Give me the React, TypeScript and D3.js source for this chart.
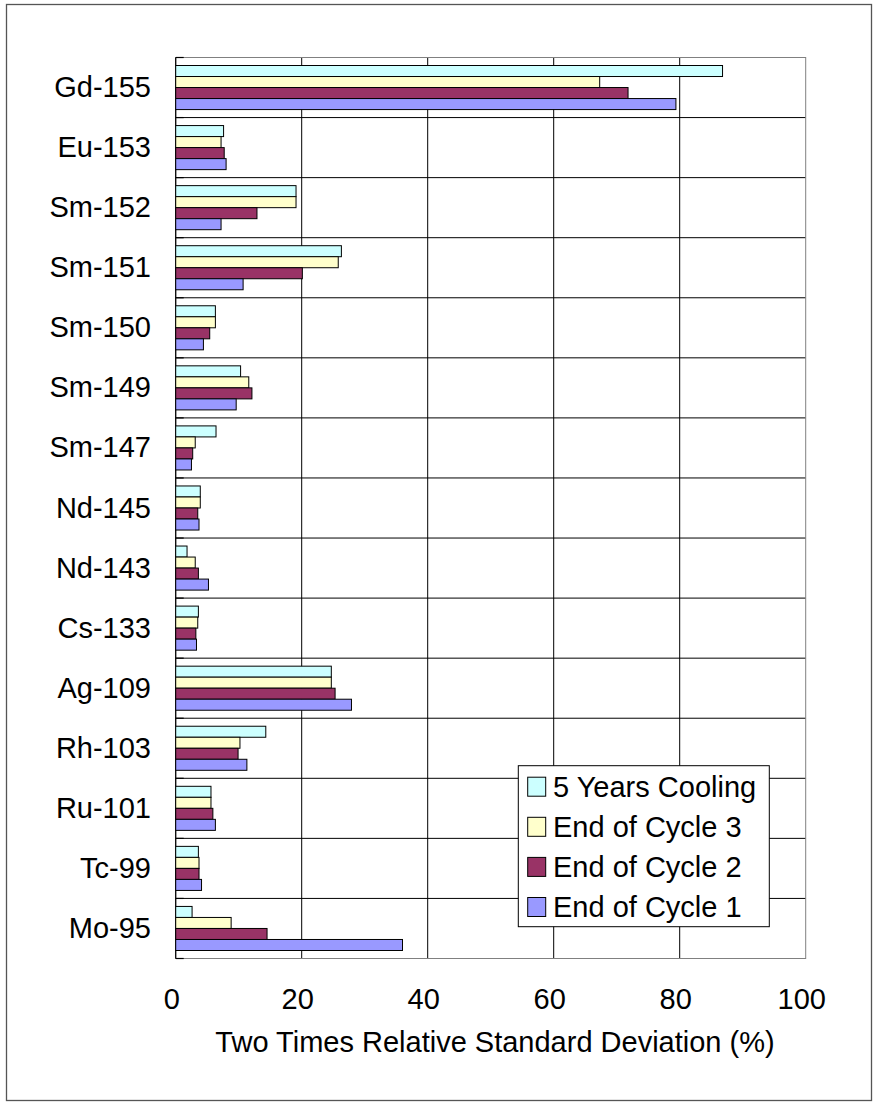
import React from "react";
import * as d3 from "d3";

const categories = [
  "Gd-155", "Eu-153", "Sm-152", "Sm-151", "Sm-150", "Sm-149", "Sm-147",
  "Nd-145", "Nd-143", "Cs-133", "Ag-109", "Rh-103", "Ru-101", "Tc-99", "Mo-95",
];
const seriesNames = ["5 Years Cooling", "End of Cycle 3", "End of Cycle 2", "End of Cycle 1"];
const seriesColors = ["#CCFFFF", "#FFFFCC", "#993366", "#9999FF"];

const fiveYearsCooling = [86.8, 7.6, 19.1, 26.3, 6.3, 10.3, 6.4, 3.9, 1.8, 3.6, 24.7, 14.3, 5.6, 3.6, 2.6];
const endOfCycle3 = [67.3, 7.2, 19.1, 25.8, 6.3, 11.6, 3.1, 3.9, 3.1, 3.5, 24.7, 10.2, 5.6, 3.7, 8.8];
const endOfCycle2 = [71.8, 7.7, 12.9, 20.1, 5.4, 12.1, 2.7, 3.5, 3.6, 3.2, 25.3, 9.9, 5.9, 3.7, 14.5];
const endOfCycle1 = [79.4, 8.0, 7.2, 10.7, 4.4, 9.6, 2.5, 3.7, 5.2, 3.3, 27.9, 11.3, 6.3, 4.1, 36.0];

const seriesValues = [fiveYearsCooling, endOfCycle3, endOfCycle2, endOfCycle1];
const xTicks = [0, 20, 40, 60, 80, 100];
const xTitle = "Two Times Relative Standard Deviation (%)";

const W = 873;
const H = 1103;
const FONT = "'Liberation Sans', Arial, Helvetica, sans-serif";
const FS = 29;

export default function App() {
  const left = 175.7;
  const right = 805.7;
  const top = 57.5;
  const bottom = 958.5;

  const x = d3.scaleLinear().domain([0, 100]).range([left, right]);
  const y = d3.scaleBand<string>().domain(categories).range([top, bottom]).padding(0);
  const step = y.step();
  const inner = d3.scaleBand<number>().domain([0, 1, 2, 3]).range([8, step - 8]).padding(0);

  const legendX = 518.3;
  const legendY = 765.7;
  const legendW = 251;
  const legendH = 161;

  return (
    <svg
      width={W}
      height={H}
      style={{ position: "absolute", left: 0, top: 0, background: "#fff" }}
      fontFamily={FONT}
    >
      <rect x={0} y={0} width={W} height={H} fill="#fff" />
      <rect x={6.5} y={4.5} width={865} height={1096} fill="none" stroke="#555" strokeWidth={1.3} />

      {/* vertical gridlines */}
      {xTicks.slice(1, -1).map((t) => (
        <line key={"vg" + t} x1={x(t)} x2={x(t)} y1={top} y2={bottom} stroke="#000" strokeWidth={1} />
      ))}
      {/* horizontal gridlines at category boundaries */}
      {categories.slice(1).map((c) => (
        <line key={"hg" + c} x1={left} x2={right} y1={y(c)!} y2={y(c)!} stroke="#000" strokeWidth={1} />
      ))}
      {/* plot border */}
      <rect x={left} y={top} width={right - left} height={bottom - top} fill="none" stroke="#808080" strokeWidth={1} />
      {/* y axis ticks (inside) */}
      {[...categories.map((c) => y(c)!), bottom].map((v, i) => (
        <line key={"yt" + i} x1={left} x2={left + 8} y1={v} y2={v} stroke="#000" strokeWidth={1.2} />
      ))}
      <line x1={left} x2={left} y1={top} y2={bottom} stroke="#000" strokeWidth={1.2} />

      {/* bars */}
      {categories.map((c, ci) => (
        <g key={"cat" + c} transform={`translate(0,${y(c)})`}>
          {seriesValues.map((vals, si) => (
            <rect
              key={si}
              x={x(0)}
              y={inner(si)!}
              width={x(vals[ci]) - x(0)}
              height={inner.bandwidth()}
              fill={seriesColors[si]}
              stroke="#000"
              strokeWidth={1}
            />
          ))}
        </g>
      ))}

      {/* y labels */}
      {categories.map((c) => (
        <text
          key={"yl" + c}
          x={151}
          y={y(c)! + step / 2 + 9.5}
          textAnchor="end"
          fontSize={FS}
          fill="#000"
        >
          {c}
        </text>
      ))}

      {/* x tick labels */}
      {xTicks.map((t) => (
        <text key={"xl" + t} x={x(t) - 4} y={1009.3} textAnchor="middle" fontSize={FS} fill="#000">
          {t}
        </text>
      ))}
      <text x={495} y={1052.3} textAnchor="middle" fontSize={FS} fill="#000">
        {xTitle}
      </text>

      {/* legend */}
      <rect x={legendX} y={legendY} width={legendW} height={legendH} fill="#fff" stroke="#000" strokeWidth={1} />
      {seriesNames.map((name, i) => {
        const cy = 786.7 + i * 40.1;
        return (
          <g key={"lg" + i}>
            <rect x={527.7} y={cy - 9.5} width={18} height={19} fill={seriesColors[i]} stroke="#000" strokeWidth={1} />
            <text x={553} y={cy + 10} fontSize={FS} fill="#000">
              {name}
            </text>
          </g>
        );
      })}
    </svg>
  );
}
